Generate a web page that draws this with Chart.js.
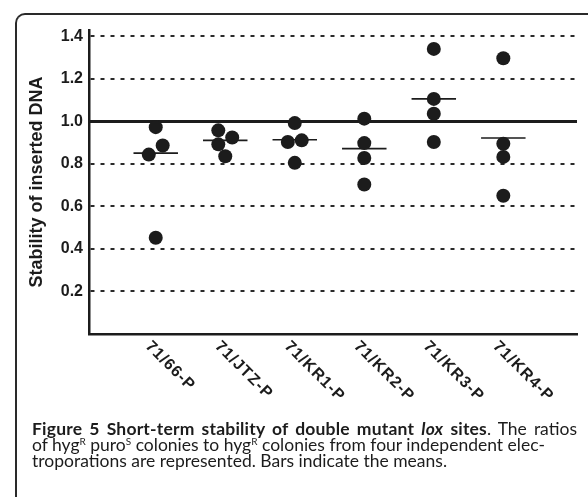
<!DOCTYPE html>
<html>
<head>
<meta charset="utf-8">
<script src="https://cdn.jsdelivr.net/npm/chart.js@4.4.1/dist/chart.umd.min.js"></script>
<style>
  html, body { margin: 0; padding: 0; background: #fff; }
  #wrap { position: relative; width: 588px; height: 497px; overflow: hidden; }
  #frame { position: absolute; left: 15px; top: 13px; width: 620px; height: 540px;
           border-top: 2px solid #2a2a2a; border-left: 2px solid #2a2a2a; border-top-left-radius: 10px; }
  canvas { position: absolute; left: 0; top: 0; }
  #caption { position: absolute; left: 32px; top: 421px; font-family: Lato, sans-serif; font-size: 17.5px;
             line-height: 16px; color: #1c1c1c; white-space: nowrap; }
  #caption .ln { text-align: justify; text-align-last: justify; }
  #caption b { font-weight: 700; letter-spacing: 0.2px; }
  #caption sup { font-size: 10px; vertical-align: 6px; line-height: 0; }
</style>
</head>
<body>
<div id="wrap">
  <div id="frame"></div>
  <canvas id="stabilityChart" width="588" height="497"></canvas>
  <div id="caption">
    <div class="ln" style="width: 545px;"><b>Figure 5 Short-term stability of double mutant <i>lox</i> sites</b>. The ratios</div>
    <div>of hyg<sup>R</sup> puro<sup>S</sup> colonies to hyg<sup>R</sup> colonies from four independent elec-</div>
    <div>troporations are represented. Bars indicate the means.</div>
  </div>
</div>
<script>
// data
const categories = ['71/66-P', '71/JTZ-P', '71/KR1-P', '71/KR2-P', '71/KR3-P', '71/KR4-P'];
const stability = [
    [0.973, 0.887, 0.844, 0.453],
    [0.958, 0.924, 0.892, 0.836],
    [0.992, 0.911, 0.903, 0.805],
    [1.013, 0.898, 0.828, 0.703],
    [1.341, 1.106, 1.036, 0.903],
    [1.297, 0.895, 0.833, 0.650]
];
const means = [0.851, 0.911, 0.914, 0.872, 1.106, 0.922];
const yTicks = [0.2, 0.4, 0.6, 0.8, 1.0, 1.2, 1.4];
const refValue = 1.0;

const xMin = 0.04, xMax = 7.06;
const ink = '#1c1c1c';

// spread dots that sit on top of each other (simple dodge)
function dodge(values, threshold, step) {
    const order = values.map((v, i) => i).sort((a, b) => values[a] - values[b]);
    const offsets = values.map(() => 0);
    let cluster = [order[0]];
    const flush = () => {
        if (cluster.length > 1) cluster.forEach((idx, k) => offsets[idx] = (k % 2 === 0 ? -step : step));
    };
    for (let k = 1; k < order.length; k++) {
        if (values[order[k]] - values[order[k - 1]] < threshold) cluster.push(order[k]);
        else { flush(); cluster = [order[k]]; }
    }
    flush();
    return offsets;
}

const dots = [];
stability.forEach((vals, i) => {
    const off = dodge(vals, 0.05, 0.1);
    vals.forEach((v, j) => dots.push({ x: i + 1 + off[j], y: v }));
});

const meanBars = [];
means.forEach((m, i) => {
    meanBars.push({ x: i + 1 - 0.32, y: m }, { x: i + 1 + 0.32, y: m }, { x: i + 1.5, y: null });
});

// rotated category labels (clockwise, running down to the right)
const slantedLabels = {
    id: 'slantedLabels',
    afterDraw(chart) {
        const xs = chart.scales.x;
        const ctx = chart.ctx;
        ctx.save();
        ctx.fillStyle = ink;
        ctx.font = 'bold 16px "Liberation Sans", Arial, sans-serif';
        ctx.letterSpacing = '1px';
        ctx.textAlign = 'left';
        ctx.textBaseline = 'alphabetic';
        xs.ticks.forEach(t => {
            const px = xs.getPixelForValue(t.value);
            ctx.save();
            ctx.translate(px - 11, xs.top + 13);
            ctx.rotate(Math.PI / 4);
            ctx.fillText(t.label, 0, 0);
            ctx.restore();
        });
        ctx.restore();
    }
};

const ctx = document.getElementById('stabilityChart').getContext('2d');
const stabilityChart = new Chart(ctx, {
    type: 'scatter',
    data: {
        datasets: [
            {
                label: 'Stability',
                data: dots,
                pointRadius: 7,
                pointHoverRadius: 7,
                backgroundColor: ink,
                borderWidth: 0
            },
            {
                label: 'Mean',
                data: meanBars,
                showLine: true,
                spanGaps: false,
                pointRadius: 0,
                borderColor: ink,
                borderWidth: 1.6
            },
            {
                label: 'Reference',
                data: [{ x: xMin, y: refValue }, { x: xMax, y: refValue }],
                showLine: true,
                pointRadius: 0,
                borderColor: ink,
                borderWidth: 3
            }
        ]
    },
    options: {
        responsive: false,
        animation: false,
        layout: { padding: { top: 30, right: 11, bottom: 163, left: 0 } },
        plugins: {
            legend: { display: false },
            tooltip: { enabled: false }
        },
        scales: {
            x: {
                type: 'linear',
                min: xMin,
                max: xMax,
                afterBuildTicks: s => { s.ticks = categories.map((c, i) => ({ value: i + 1 })); },
                afterFit: s => { s.height = 0; },
                ticks: { display: false, callback: v => categories[v - 1] },
                grid: { display: false, drawTicks: false },
                border: { color: ink, width: 2.5 }
            },
            y: {
                min: 0,
                max: 1.43,
                afterBuildTicks: s => { s.ticks = yTicks.map(v => ({ value: v })); },
                afterFit: s => { s.width = 89; },
                ticks: {
                    color: ink,
                    padding: 6,
                    font: { family: '"Liberation Sans", Arial, sans-serif', size: 16, weight: 'bold' },
                    callback: v => v.toFixed(1)
                },
                grid: {
                    color: c => (c.tick && c.tick.value === refValue) ? 'rgba(0,0,0,0)' : '#2a2a2a',
                    lineWidth: 2,
                    drawTicks: false
                },
                border: { color: ink, width: 2.5, dash: [4, 6] },
                title: {
                    display: true,
                    text: 'Stability of inserted DNA',
                    color: ink,
                    font: { family: '"Liberation Sans", Arial, sans-serif', size: 18, weight: 'bold' },
                    padding: { top: 26, bottom: 0 }
                }
            }
        }
    },
    plugins: [slantedLabels]
});
</script>
</body>
</html>
